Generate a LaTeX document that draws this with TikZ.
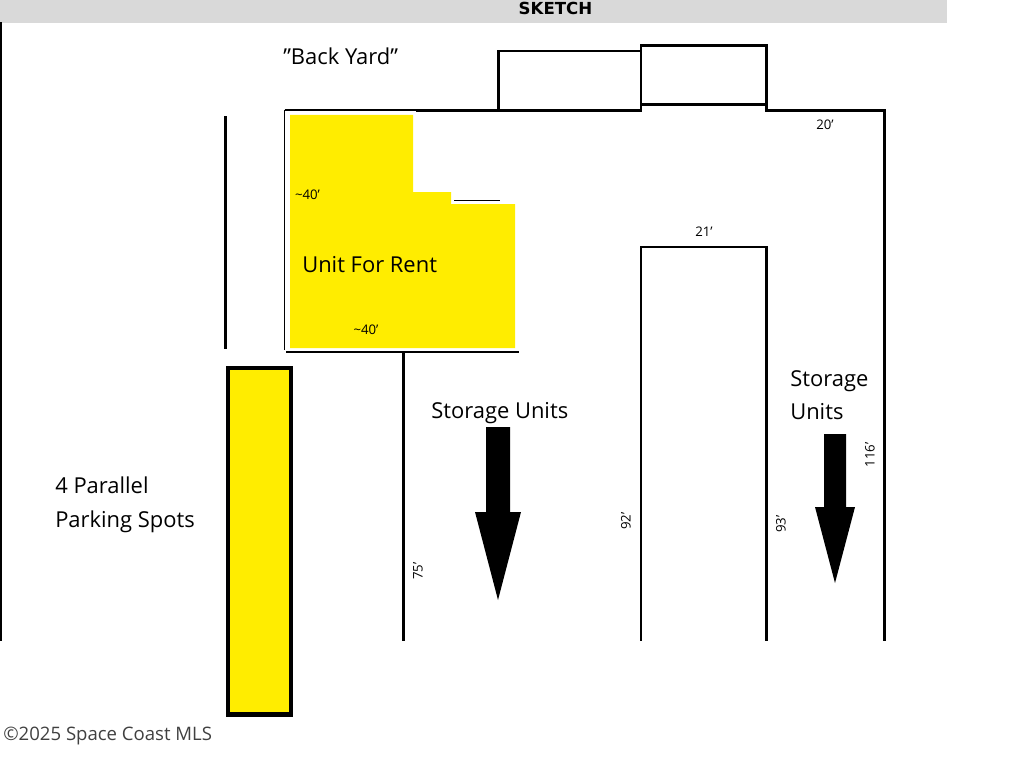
\documentclass[tikz,border=0pt]{standalone}
\usepackage{fontspec}
\setmainfont{Open Sans}
\newfontfamily\headfont{DejaVu Sans}
\usepackage{xcolor}
\definecolor{unityellow}{rgb}{1.0,0.93,0.0}
\definecolor{headgray}{rgb}{0.85,0.85,0.85}
\usetikzlibrary{positioning}
\newcommand{\ft}{\symbol{39}}
\newcommand{\qt}{\symbol{34}}
\tikzset{wall/.style={line width=1.8pt,line cap=rect,black}}
\tikzset{biglabel/.style={inner sep=0pt,anchor=base west,font=\fontsize{15.6}{19}\selectfont}}
\tikzset{dimlabel/.style={inner sep=0pt,font=\fontsize{9.4}{12}\selectfont}}
\tikzset{flowarrow/.style={fill=black,draw=none}}
\begin{document}
\begin{tikzpicture}[x=0.025cm,y=-0.025cm]
  \useasboundingbox (0, 0) rectangle (1024, 768);
  \fill[headgray] (0, 0) rectangle (947, 23);
  \node[inner sep=0pt,font=\headfont\bfseries\fontsize{11.8}{13}\selectfont] (sketchtitle) at (555.5, 8) {SKETCH};
  % outer walls
  \draw[wall,line width=1.2pt] (1, 23) -- (1, 640);
  \draw[wall] (225.5, 117) -- (225.5, 348);
  \draw[wall] (417, 110.5) -- (498.5, 110.5) -- (498.5, 51) -- (641, 51);
  \draw[wall] (498.5, 110.5) -- (641, 110.5);
  \draw[wall] (641, 110.5) -- (641, 45.5) -- (766.5, 45.5) -- (766.5, 110.5);
  \draw[wall] (641, 104.5) -- (766.5, 104.5);
  \draw[wall] (766.5, 110.5) -- (884.5, 110.5) -- (884.5, 640);
  \draw[wall] (641, 640) -- (641, 247) -- (766.5, 247) -- (766.5, 640);
  \draw[wall] (403.5, 353) -- (403.5, 640);
  % rental unit
  \draw[line width=1.2pt] (284.5, 110) -- (284.5, 350);
  \draw[line width=0.8pt] (284.5, 110) -- (416, 110);
  \draw[line width=0.8pt] (286, 352) -- (519, 352);
  \draw[line width=0.8pt] (454, 200.5) -- (500, 200.5);
  \fill[unityellow] (290, 115) -- (413, 115) -- (413, 192) -- (451, 192) -- (451, 204) -- (515, 204) -- (515, 348) -- (290, 348) -- cycle;
  % parking
  \draw[fill=unityellow,line width=3.2pt] (228, 368) rectangle (291, 714.5);
  % arrows
  \fill[flowarrow] (486, 427) -- (510, 427) -- (510, 512) -- (521, 512) -- (498, 600) -- (475, 512) -- (486, 512) -- cycle;
  \fill[flowarrow] (824, 434) -- (846, 434) -- (846, 507) -- (855, 507) -- (835, 583) -- (815, 507) -- (824, 507) -- cycle;
  % labels
  \node[biglabel] (backyard) at (283, 65) {\qt Back Yard\qt};
  \node[biglabel] (unitrent) at (302, 272) {Unit For Rent};
  \node[biglabel] (storagemid) at (431, 418) {Storage Units};
  \node[biglabel] (storagetop) at (790, 386) {Storage};
  \node[biglabel] (storagebot) at (790, 419) {Units};
  \node[biglabel] (parkingtop) at (55, 493) {4 Parallel};
  \node[biglabel] (parkingbot) at (55, 527) {Parking Spots};
  \node[dimlabel] (dimleft) at (307.5, 195) {\textasciitilde 40\ft};
  \node[dimlabel] (dimbottom) at (366, 330) {\textasciitilde 40\ft};
  \node[dimlabel] (dimtop) at (825, 125) {20\ft};
  \node[dimlabel] (dimgap) at (704, 232) {21\ft};
  \node[dimlabel,rotate=90] (dima) at (418, 571) {75\ft};
  \node[dimlabel,rotate=90] (dimb) at (626, 521) {92\ft};
  \node[dimlabel,rotate=90] (dimc) at (781, 524) {93\ft};
  \node[dimlabel,rotate=90] (dimd) at (870, 455) {116\ft};
  \node[inner sep=0pt,anchor=base west,font=\fontsize{13.2}{16}\selectfont,text=black!75] (copyline) at (3, 740) {©2025 Space Coast MLS};
\end{tikzpicture}
\end{document}
